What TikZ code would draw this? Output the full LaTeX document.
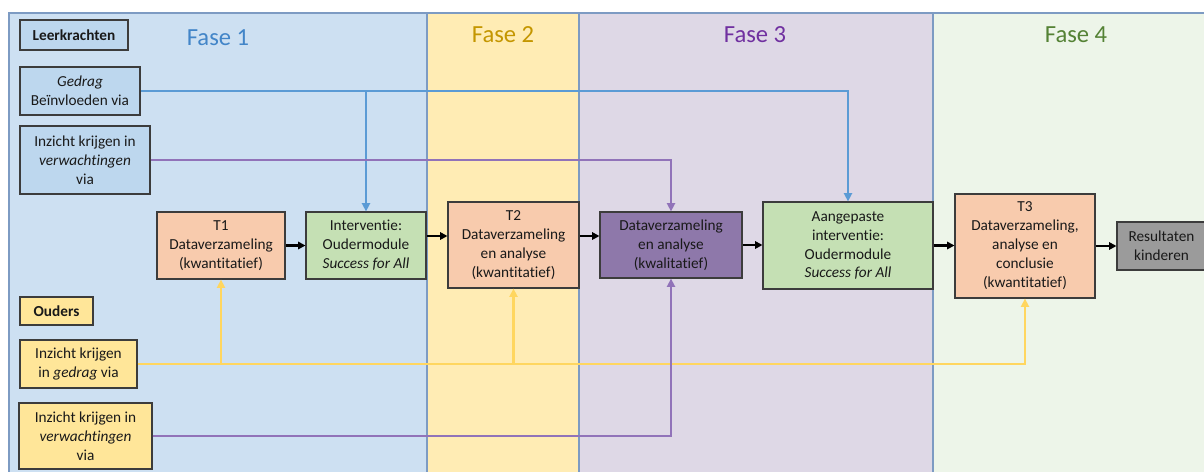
\documentclass[tikz,border=0pt]{standalone}
\usepackage{fontspec}
\setmainfont{Carlito}[Ligatures={NoCommon,NoRare,NoDiscretionary,NoContextual}]
\usetikzlibrary{arrows.meta}
\definecolor{bgA}{RGB}{205,224,242}
\definecolor{bgB}{RGB}{255,236,180}
\definecolor{bgC}{RGB}{222,216,230}
\definecolor{bgD}{RGB}{237,245,233}
\definecolor{panelline}{RGB}{125,155,195}
\definecolor{teach}{RGB}{189,215,238}
\definecolor{parent}{RGB}{255,230,153}
\definecolor{tbox}{RGB}{248,203,173}
\definecolor{gbox}{RGB}{197,224,180}
\definecolor{pbox}{RGB}{142,120,170}
\definecolor{greybox}{RGB}{155,155,155}
\definecolor{lblue}{RGB}{91,155,213}
\definecolor{lpurp}{RGB}{145,115,185}
\definecolor{lyell}{RGB}{255,214,95}
\definecolor{fA}{RGB}{66,133,200}
\definecolor{fB}{RGB}{196,150,0}
\definecolor{fC}{RGB}{112,48,160}
\definecolor{fD}{RGB}{84,130,53}
\definecolor{bord}{RGB}{60,60,60}
\tikzset{
  box/.style={draw=bord, line width=0.6pt, align=center, inner sep=0pt,
    font=\fontsize{8.7}{10.8}\selectfont, text=black!90},
  sz/.style 2 args={minimum width=#1*0.02cm, minimum height=#2*0.02cm},
  fase/.style={font=\fontsize{14}{16}\selectfont},
  conn/.style={line width=1.4pt, -{Triangle[length=4.8pt,width=4.6pt]}},
  blk/.style={line width=1.2pt, black, -{Triangle[length=4.2pt,width=4.2pt]}},
}
\begin{document}
\begin{tikzpicture}[x=0.02cm,y=-0.02cm]
\useasboundingbox (0,0) rectangle (1204,471);
\clip (0,0) rectangle (1204,471);
% panels
\fill[bgA] (9,13) rectangle (427,480);
\fill[bgB] (427,13) rectangle (579,480);
\fill[bgC] (579,13) rectangle (933,480);
\fill[bgD] (933,13) rectangle (1210,480);
\draw[panelline, line width=0.6pt] (9,480) -- (9,13) -- (1210,13);
\draw[panelline, line width=0.6pt] (427,13) -- (427,480);
\draw[panelline, line width=0.6pt] (579,13) -- (579,480);
\draw[panelline, line width=0.6pt] (933,13) -- (933,480);
% phase labels
\node[fase, text=fA] (f1) at (218,38) {Fase 1};
\node[fase, text=fB] (f2) at (503,35) {Fase 2};
\node[fase, text=fC] (f3) at (755,35) {Fase 3};
\node[fase, text=fD] (f4) at (1076,35) {Fase 4};
% left boxes
\node[box, fill=teach, sz={108}{30}, font=\fontsize{8.7}{10.8}\selectfont\bfseries] (lk) at (74,35) {Leerkrachten};
\node[box, fill=teach, sz={120}{48}] (ged) at (80,91) {\textit{Gedrag}\\Beïnvloeden via};
\node[box, fill=teach, sz={130}{68}] (inzL) at (85,160) {Inzicht krijgen in\\\textit{verwachtingen}\\via};
\node[box, fill=parent, sz={73}{28}, font=\fontsize{8.7}{10.8}\selectfont\bfseries] (ou) at (56.5,311) {Ouders};
\node[box, fill=parent, sz={117}{48}] (inzG) at (78.5,364) {Inzicht krijgen\\in \textit{gedrag} via};
\node[box, fill=parent, sz={133}{66}] (inzV) at (85.5,436) {Inzicht krijgen in\\\textit{verwachtingen}\\via};
% process boxes
\node[box, fill=tbox, sz={128}{67}] (t1) at (221,245.5) {T1\\Dataverzameling\\(kwantitatief)};
\node[box, fill=gbox, sz={120}{67}] (int) at (366,245.5) {Interventie:\\Oudermodule\\\textit{Success for All}};
\node[box, fill=tbox, sz={131}{86}] (t2) at (513.5,245) {T2\\Dataverzameling\\en analyse\\(kwantitatief)};
\node[box, fill=pbox, sz={142}{66}] (dat) at (671,245) {Dataverzameling\\en analyse\\(kwalitatief)};
\node[box, fill=gbox, sz={170}{87}] (aang) at (848,245.5) {Aangepaste\\interventie:\\Oudermodule\\\textit{Success for All}};
\node[box, fill=tbox, sz={140}{104}] (t3) at (1025,246) {T3\\Dataverzameling,\\analyse en\\conclusie\\(kwantitatief)};
\node[box, fill=greybox, sz={89}{48}] (res) at (1161.5,246) {Resultaten\\kinderen};
% coloured connectors
\coordinate (bj) at (int.north |- ged.east);
\draw[conn, lblue] (ged.east) -| (aang.north);
\draw[conn, lblue] (bj) -- (int.north);
\draw[conn, lpurp] (inzL.east) -| (dat.north);
\coordinate (y1) at (t1.south |- inzG.east);
\coordinate (y2) at (t2.south |- inzG.east);
\draw[conn, lyell] (inzG.east) -| (t3.south);
\draw[conn, lyell] (y1) -- (t1.south);
\draw[conn, lyell] (y2) -- (t2.south);
\draw[conn, lpurp] (inzV.east) -| (dat.south);
% black arrows
\coordinate (ya) at (0,236);
\draw[blk] (t1.east) -- (int.west);
\draw[blk] (int.east |- ya) -- (t2.west |- ya);
\draw[blk] (t2.east |- ya) -- (dat.west |- ya);
\draw[blk] (dat.east) -- (aang.west |- dat.east);
\draw[blk] (aang.east) -- (t3.west |- aang.east);
\draw[blk] (t3.east) -- (res.west);
\end{tikzpicture}
\end{document}
